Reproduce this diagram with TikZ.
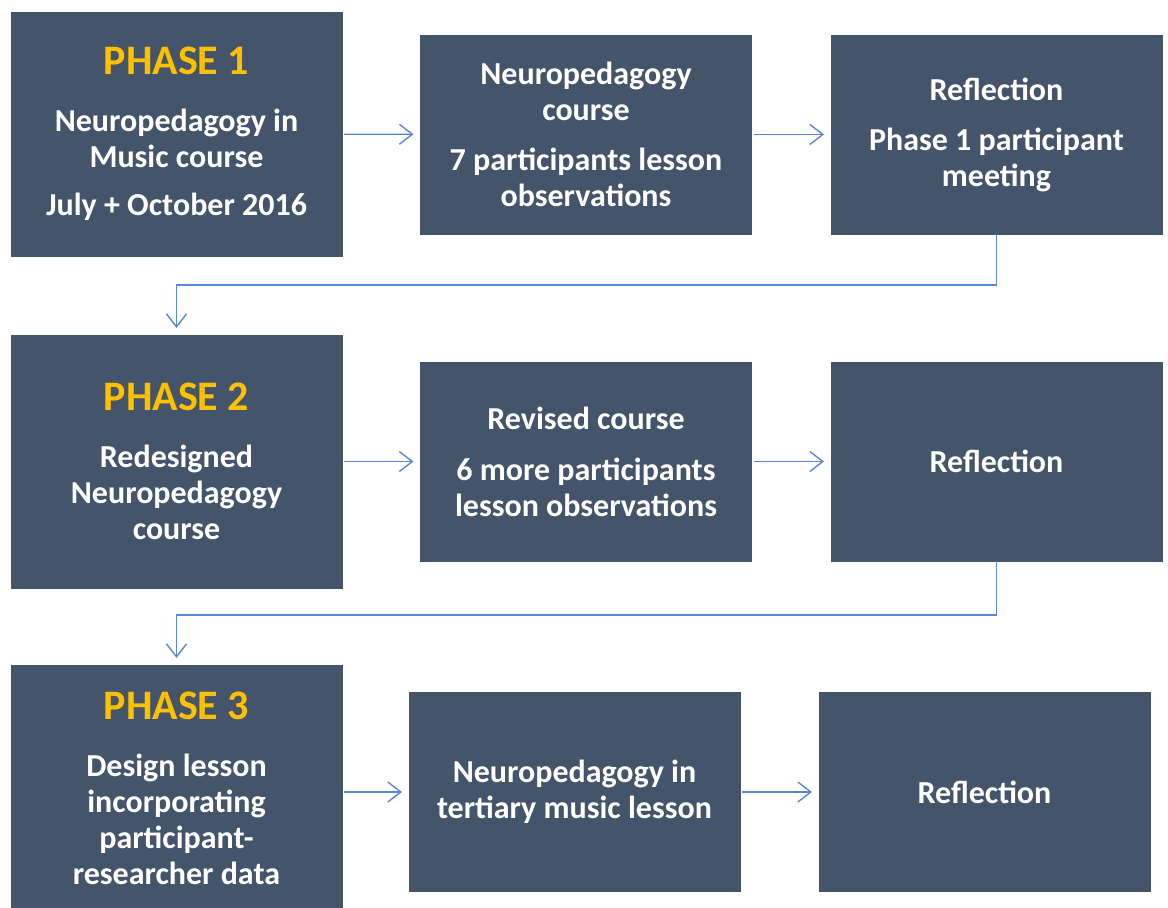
\documentclass[tikz,border=0pt]{standalone}
\usepackage{fontspec}
\setmainfont{Carlito}
\usetikzlibrary{positioning, arrows.meta}
\usepackage{xcolor}
\definecolor{boxSlate}{HTML}{44546A}
\definecolor{phaseGold}{HTML}{FFC000}
\definecolor{flowBlue}{HTML}{5B87D3}

\newcommand{\phasetitle}[1]{{\fontsize{42}{46}\selectfont\color{phaseGold}PHASE #1}\\[21pt]}

\begin{document}
\begin{tikzpicture}[x=1pt, y=-1pt,
        phasebox/.style={draw=boxSlate, fill=boxSlate, text=white, align=center,
            inner sep=0pt, outer sep=0pt, minimum width=331pt, minimum height=199pt,
            font=\fontsize{32}{36}\selectfont\bfseries},
        flow/.style={draw=flowBlue, line width=1.4pt,
            -{Straight Barb[length=13pt, width=20pt, line width=1.4pt]}}]
        \useasboundingbox (0,0) rectangle (1168,908);
        % phase 1
        \node[phasebox, minimum height=244pt] (p1) at (176.5,134) {
            \phasetitle{1}
            Neuropedagogy in\\
            Music course\\[12pt]
            July + October 2016};
        \node[phasebox] (course1) at (586,134.5) {
            Neuropedagogy\\
            course\\[14pt]
            7 participants lesson\\
            observations};
        \node[phasebox] (refl1) at (996.5,134.5) {
            Reflection\\[14pt]
            Phase 1 participant\\
            meeting};
        % phase 2
        \node[phasebox, minimum height=253pt] (p2) at (176.5,461.5) {
            \phasetitle{2}
            Redesigned\\
            Neuropedagogy\\
            course};
        \node[phasebox] (course2) at (586,461.5) {
            Revised course\\[15pt]
            6 more participants\\
            lesson observations};
        \node[phasebox] (refl2) at (996.5,461.5) {Reflection};
        % phase 3
        \node[phasebox, minimum height=246pt] (p3) at (176.5,788) {
            \phasetitle{3}
            Design lesson\\
            incorporating\\
            participant-\\
            researcher data};
        \node[phasebox] (lesson3) at (574.5,792) {
            Neuropedagogy in\\
            tertiary music lesson};
        \node[phasebox] (refl3) at (984.5,792) {Reflection};

        \draw[flow, shorten <=2pt, shorten >=7pt] (p1) -- (course1);
        \draw[flow, shorten <=2pt, shorten >=7pt] (course1) -- (refl1);
        \draw[flow, shorten >=7pt] (refl1.south) -- ++(0,51) -| (p2.north);
        \draw[flow, shorten <=2pt, shorten >=7pt] (p2) -- (course2);
        \draw[flow, shorten <=2pt, shorten >=7pt] (course2) -- (refl2);
        \draw[flow, shorten >=7pt] (refl2.south) -- ++(0,54) -| (p3.north);
        \draw[flow, shorten <=2pt, shorten >=7pt] (p3.east |- lesson3.west) -- (lesson3);
        \draw[flow, shorten <=2pt, shorten >=7pt] (lesson3) -- (refl3);
\end{tikzpicture}
\end{document}
